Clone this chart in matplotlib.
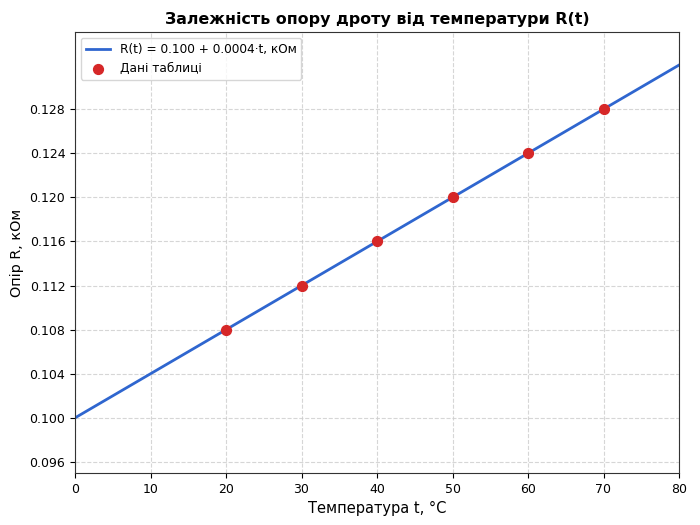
import matplotlib
matplotlib.use("Agg")
import matplotlib.pyplot as plt
import numpy as np

# line R(t) = 0.100 + 0.0004 t, drawn between its ends
line_t = [0, 80]
line_r = [0.100, 0.132]

# table points
table_t = [20, 30, 40, 50, 60, 70]
table_r = [0.108, 0.112, 0.116, 0.120, 0.124, 0.128]

y_ticks = [0.096, 0.100, 0.104, 0.108, 0.112, 0.116, 0.120, 0.124, 0.128]
x_ticks = [0, 10, 20, 30, 40, 50, 60, 70, 80]

fig = plt.figure(figsize=(7, 5.25), dpi=100)
ax = fig.add_axes([75 / 700, 52 / 525, 604 / 700, 441 / 525])

ax.plot(line_t, line_r, color="#2f66cf", linewidth=2,
        label="R(t) = 0.100 + 0.0004·t, кОм", zorder=2)
ax.scatter(table_t, table_r, color="#d62728", s=50, zorder=3,
           label="Дані таблиці")

ax.set_xlim(0, 80)
ax.set_ylim(0.095, 0.135)
ax.set_xticks(x_ticks)
ax.set_yticks(y_ticks)
ax.set_yticklabels([f"{v:.3f}" for v in y_ticks])
ax.tick_params(labelsize=9)
ax.grid(True, linestyle="--", color="#cccccc", linewidth=0.8, alpha=0.8)
ax.set_axisbelow(True)
for s in ax.spines.values():
    s.set_color("#333333")

ax.set_title("Залежність опору дроту від температури R(t)",
             fontsize=11.4, fontweight="bold")
ax.set_xlabel("Температура t, °C", fontsize=10.5)
ax.set_ylabel("Опір R, кОм", fontsize=10.4)
ax.legend(loc="upper left", fontsize=8.7)

fig.savefig("out.png", dpi=100)
